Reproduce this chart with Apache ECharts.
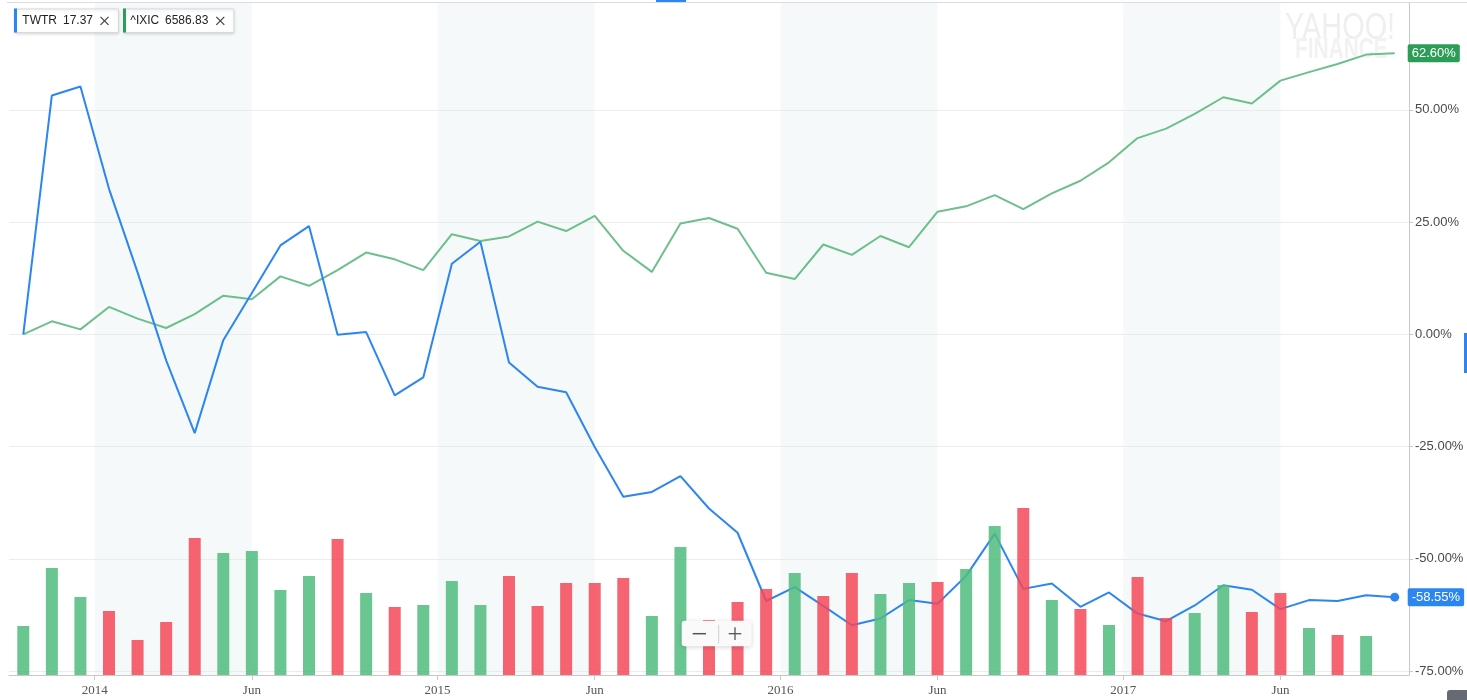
<!DOCTYPE html>
<html>
<head>
<meta charset="utf-8">
<script src="https://cdn.jsdelivr.net/npm/echarts@6/dist/echarts.min.js"></script>
<style>html,body{margin:0;padding:0;background:#fff;}#c{width:1467px;height:700px;}</style>
</head>
<body>
<div id="c"></div>
<script>
// ---------- DATA ----------
const months = [
  'Oct 2013','Nov 2013','Dec 2013',
  'Jan 2014','Feb 2014','Mar 2014','Apr 2014','May 2014','Jun 2014','Jul 2014','Aug 2014','Sep 2014','Oct 2014','Nov 2014','Dec 2014',
  'Jan 2015','Feb 2015','Mar 2015','Apr 2015','May 2015','Jun 2015','Jul 2015','Aug 2015','Sep 2015','Oct 2015','Nov 2015','Dec 2015',
  'Jan 2016','Feb 2016','Mar 2016','Apr 2016','May 2016','Jun 2016','Jul 2016','Aug 2016','Sep 2016','Oct 2016','Nov 2016','Dec 2016',
  'Jan 2017','Feb 2017','Mar 2017','Apr 2017','May 2017','Jun 2017','Jul 2017','Aug 2017','Sep 2017','Oct 2017'
];
// TWTR % change since start
const twtrPct = [
  0, 53.2, 55.2, 32.4, 13.8, -5.8, -22.0, -1.3, 9.2, 19.8, 24.1, -0.1, 0.5,
  -13.6, -9.6, 15.7, 20.6, -6.3, -11.7, -12.9, -25.1, -36.2, -35.1, -31.6, -38.8,
  -44.2, -59.4, -56.3, -60.5, -64.8, -63.3, -59.2, -60.0, -53.8, -44.4, -56.7,
  -55.5, -60.7, -57.5, -62.2, -63.9, -60.4, -55.9, -56.9, -61.2, -59.2, -59.4,
  -58.1, -58.55
];
// ^IXIC % change since start
const ixicPct = [
  0, 2.9, 1.1, 6.1, 3.5, 1.4, 4.5, 8.6, 7.8, 12.9, 10.8, 14.3, 18.2,
  16.7, 14.3, 22.3, 20.8, 21.8, 25.1, 23.0, 26.4, 18.6, 13.9, 24.7, 25.9,
  23.5, 13.7, 12.3, 20.0, 17.7, 21.9, 19.4, 27.3, 28.5, 31.0, 27.9,
  31.4, 34.2, 38.3, 43.7, 45.8, 49.1, 52.8, 51.4, 56.5, 58.4, 60.2,
  62.3, 62.6
];
// TWTR monthly volume (millions of shares, estimated)
const twtrVolume = [
  196, 428, 312, 256, 140, 212, 548, 488, 496, 340, 396, 544, 328,
  272, 280, 376, 280, 396, 276, 368, 368, 388, 236, 512, 220,
  292, 344, 408, 316, 408, 324, 368, 372, 424, 596, 668,
  300, 264, 200, 392, 228, 248, 360, 252, 328, 188, 160,
  156, null
];
const pctTicks = [-75, -50, -25, 0, 25, 50];
const legendItems = [
  { symbol: 'TWTR', price: '17.37' },
  { symbol: '^IXIC', price: '6586.83' }
];

// ---------- DERIVED ----------
const tickPos = [], tickText = {};
months.forEach((m, i) => {
  const [mon, yr] = m.split(' ');
  if (mon === 'Jan') { tickPos.push(i - 0.5); tickText[String(i - 0.5)] = yr; }
  if (mon === 'Jun') { tickPos.push(i); tickText[String(i)] = 'Jun'; }
});
const bands = [];
for (let k = 0; k + 1 < tickPos.length; k += 2) bands.push([{ xAxis: tickPos[k] }, { xAxis: tickPos[k + 1] }]);

const BLUE = '#2b86ef', GREEN_LINE = '#6dbf8c', GREEN_BADGE = '#2c9d57';
const up = twtrPct.map((v, i) => i === 0 || v >= twtrPct[i - 1]);
const last = months.length - 1;

const chart = echarts.init(document.getElementById('c'), null, { renderer: 'canvas' });

const legendGraphics = [];
(function () {
  const boxes = [
    { x: 14, w: 104, col: BLUE, tx: [22.3, 63], cx: 104.5 },
    { x: 123, w: 110.5, col: GREEN_BADGE, tx: [130.3, 165], cx: 220.3 }
  ];
  boxes.forEach((b, k) => {
    const it = legendItems[k];
    legendGraphics.push({ type: 'rect', z: 100, shape: { x: b.x + 0.5, y: 9, width: b.w, height: 23.5 },
      style: { fill: '#fff', stroke: '#d9d9d9', lineWidth: 1, shadowBlur: 3, shadowColor: 'rgba(0,0,0,0.12)', shadowOffsetY: 1 } });
    legendGraphics.push({ type: 'rect', z: 101, shape: { x: b.x, y: 8.5, width: 3, height: 24 }, style: { fill: b.col } });
    legendGraphics.push({ type: 'text', z: 101, x: b.tx[0], y: 20.8, style: { text: it.symbol, font: '12px "Liberation Sans", Arial, sans-serif', fill: '#222', verticalAlign: 'middle' } });
    legendGraphics.push({ type: 'text', z: 101, x: b.tx[1], y: 20.8, style: { text: it.price, font: '12px "Liberation Sans", Arial, sans-serif', fill: '#222', verticalAlign: 'middle' } });
    legendGraphics.push({ type: 'line', z: 101, shape: { x1: b.cx - 4, y1: 16.8, x2: b.cx + 4, y2: 24.8 }, style: { stroke: '#444', lineWidth: 1.2 } });
    legendGraphics.push({ type: 'line', z: 101, shape: { x1: b.cx - 4, y1: 24.8, x2: b.cx + 4, y2: 16.8 }, style: { stroke: '#444', lineWidth: 1.2 } });
  });
})();

const option = {
  animation: false,
  backgroundColor: '#fff',
  grid: { left: 9, right: 58, top: 3, bottom: 25, containLabel: false, outerBoundsMode: 'none' },
  xAxis: {
    type: 'value',
    min: -0.5,
    max: months.length - 0.5,
    axisLine: { show: true, onZero: false, lineStyle: { color: '#c8c8c8' } },
    axisTick: { show: true, length: 5, customValues: tickPos, lineStyle: { color: '#c8c8c8' } },
    axisLabel: {
      customValues: tickPos,
      margin: 9,
      color: '#555',
      fontFamily: '"Liberation Serif", "DejaVu Serif", serif',
      fontSize: 13,
      formatter: v => tickText[String(v)] || ''
    },
    splitLine: { show: false }
  },
  yAxis: [
    {
      type: 'value',
      position: 'right',
      min: -75.88,
      max: 73.79,
      axisLine: { show: true, onZero: false, lineStyle: { color: '#c8c8c8' } },
      axisTick: { show: true, length: 4, customValues: pctTicks, lineStyle: { color: '#c8c8c8' } },
      axisLabel: {
        customValues: pctTicks,
        margin: 6,
        color: '#4a4a4a',
        fontFamily: '"Liberation Sans", Arial, sans-serif',
        fontSize: 13,
        formatter: v => v.toFixed(2) + '%'
      },
      splitLine: { show: true, lineStyle: { color: '#ececec', width: 1 } }
    },
    {
      type: 'value',
      show: false,
      min: 0,
      max: 2688,
      axisLine: { show: false, onZero: false },
      splitLine: { show: false }
    }
  ],
  series: [
    {
      name: '^IXIC',
      type: 'line',
      z: 2,
      data: ixicPct.map((v, i) => [i, v]),
      showSymbol: false,
      lineStyle: { color: GREEN_LINE, width: 2 },
      itemStyle: { color: GREEN_LINE },
      endLabel: {
        show: true, distance: 13,
        formatter: p => p.value[1].toFixed(2) + '%',
        color: '#fff', backgroundColor: GREEN_BADGE, borderRadius: 2,
        padding: [3, 4, 2, 4], fontSize: 13, fontFamily: '"Liberation Sans", Arial, sans-serif'
      },
      markArea: {
        silent: true,
        itemStyle: { color: 'rgba(226,234,234,0.3)' },
        data: bands
      }
    },
    {
      name: 'TWTR',
      type: 'line',
      z: 2,
      data: twtrPct.map((v, i) => [i, v]),
      showSymbol: false,
      lineStyle: { color: BLUE, width: 2 },
      itemStyle: { color: BLUE },
      endLabel: {
        show: true, distance: 13,
        formatter: p => p.value[1].toFixed(2) + '%',
        color: '#fff', backgroundColor: BLUE, borderRadius: 2,
        padding: [3, 4, 2, 4], fontSize: 13, fontFamily: '"Liberation Sans", Arial, sans-serif'
      },
      markPoint: {
        silent: true,
        symbol: 'circle', symbolSize: 9,
        itemStyle: { color: BLUE },
        label: { show: false },
        data: [{ coord: [last, twtrPct[last]] }]
      }
    },
    {
      name: 'Volume',
      type: 'bar',
      z: 3,
      yAxisIndex: 1,
      barWidth: 12,
      data: twtrVolume.map((v, i) => [i, v]),
      itemStyle: {
        color: p => up[p.dataIndex] ? 'rgba(80,188,124,0.85)' : 'rgba(245,72,88,0.85)'
      }
    }
  ],
  graphic: [
    { type: 'line', z: 50, shape: { x1: 7, y1: 2.5, x2: 1467, y2: 2.5 }, style: { stroke: '#dcdce6', lineWidth: 1 } },
    { type: 'rect', z: 51, shape: { x: 656, y: 0, width: 30, height: 2 }, style: { fill: '#2b86ef' } },
    { type: 'rect', z: 51, shape: { x: 1464, y: 333, width: 3, height: 40 }, style: { fill: '#2b86ef' } },
    { type: 'rect', z: 51, shape: { x: 1447, y: 690, width: 24, height: 14, r: 3 }, style: { fill: '#666b73' } },
    { type: 'text', z: 1, x: 1285, y: 29, scaleX: 0.78,
      style: { text: 'YAHOO!', font: '37px "Liberation Sans", Arial, sans-serif', fill: '#efefef', verticalAlign: 'middle' } },
    { type: 'text', z: 1, x: 1295, y: 50, scaleX: 0.72,
      style: { text: 'FINANCE', font: 'bold 29px "Liberation Sans", Arial, sans-serif', fill: '#f2f2f2', verticalAlign: 'middle' } },
    ...legendGraphics,
    { type: 'rect', z: 100, shape: { x: 681.7, y: 620.7, width: 70, height: 25.5, r: 3 },
      style: { fill: '#fafafa', shadowBlur: 4, shadowColor: 'rgba(0,0,0,0.18)', shadowOffsetY: 1 } },
    { type: 'line', z: 101, shape: { x1: 692.7, y1: 633.7, x2: 706, y2: 633.7 }, style: { stroke: '#555', lineWidth: 1.5 } },
    { type: 'line', z: 101, shape: { x1: 718.7, y1: 624.7, x2: 718.7, y2: 643.5 }, style: { stroke: '#cfcfcf', lineWidth: 1 } },
    { type: 'line', z: 101, shape: { x1: 728.7, y1: 633.7, x2: 741.3, y2: 633.7 }, style: { stroke: '#555', lineWidth: 1.3 } },
    { type: 'line', z: 101, shape: { x1: 735, y1: 627.3, x2: 735, y2: 640 }, style: { stroke: '#555', lineWidth: 1.3 } }
  ]
};
chart.setOption(option);
</script>
</body>
</html>
